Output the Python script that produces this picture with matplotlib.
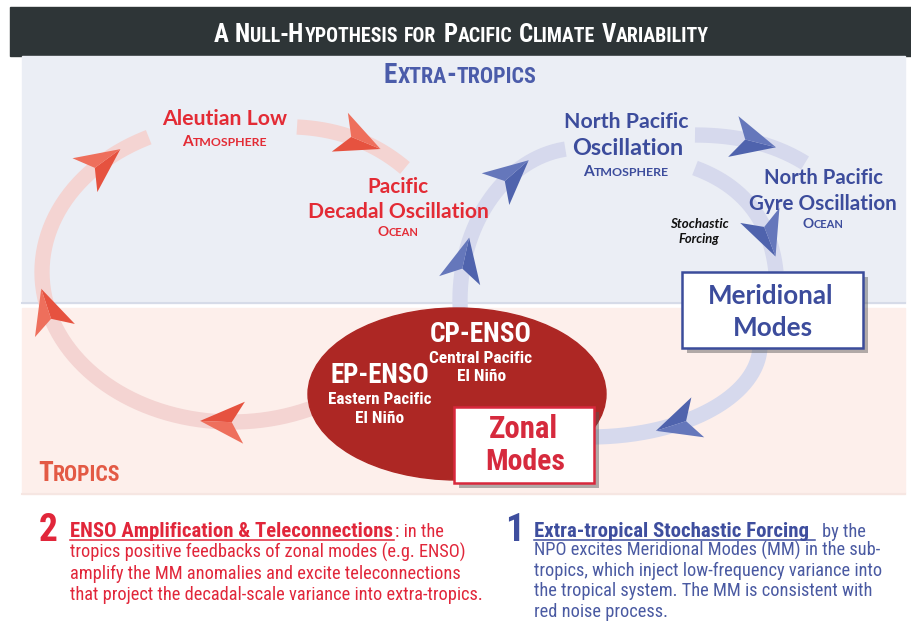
import numpy as np
import matplotlib
matplotlib.use("Agg")
import matplotlib.pyplot as plt
from matplotlib import font_manager
from matplotlib.patches import Rectangle, Ellipse, Polygon

# text content of the diagram
title = "A Null-Hypothesis for Pacific Climate Variability"
zone_names = ["Extra-tropics", "Tropics"]
aleutian = ["Aleutian Low", "Atmosphere"]
pdo = ["Pacific", "Decadal Oscillation", "Ocean"]
npo = ["North Pacific", "Oscillation", "Atmosphere"]
npgo = ["North Pacific", "Gyre Oscillation", "Ocean"]
cp_enso = ["CP-ENSO", "Central Pacific", "El Niño"]
ep_enso = ["EP-ENSO", "Eastern Pacific", "El Niño"]
zonal = ["Zonal", "Modes"]
meridional = ["Meridional", "Modes"]
forcing = ["Stochastic", "Forcing"]
step2_num = "2"
step2_head = "ENSO Amplification & Teleconnections"
step2_tail = ": in the"
step2_lines = ["tropics positive feedbacks of zonal modes (e.g. ENSO)",
               "amplify the MM anomalies and excite teleconnections",
               "that project the decadal-scale variance into extra-tropics."]
step1_num = "1"
step1_head = "Extra-tropical Stochastic Forcing"
step1_tail = "by the"
step1_lines = ["NPO excites Meridional Modes (MM) in the sub-",
               "tropics, which inject low-frequency variance into",
               "the tropical system. The MM is consistent with",
               "red noise process."]

RED = "#e32b35"
BLUE = "#3c4c9c"
RED_ARROW, RED_ARROW2 = "#e6523f", "#ee6f5c"
BLUE_ARROW, BLUE_ARROW2 = "#4f63ad", "#6577bb"
RED_ARC = "#f4d4d2"
BLUE_ARC = "#d6d9ed"

names = {f.name for f in font_manager.fontManager.ttflist}
HEAD = "Lato" if "Lato" in names else "DejaVu Sans"
NARROW = HEAD
for cand in ["Liberation Sans Narrow", "Roboto Condensed", "Open Sans Condensed"]:
    if cand in names:
        NARROW = cand
        break

fig = plt.figure(figsize=(9.11, 6.21), dpi=100)
ax = fig.add_axes([0, 0, 1, 1])
ax.set_xlim(0, 911)
ax.set_ylim(621, 0)
ax.axis("off")
R = fig.canvas.get_renderer()


def width(t):
    return t.get_window_extent(R).width


def label(x, y, s, size, color, ha="center", fit=None, family=HEAD,
          weight="bold", style="normal", z=6):
    t = ax.text(x, y, s, fontsize=size, color=color, ha=ha, va="baseline",
                family=family, weight=weight, style=style, zorder=z)
    if fit:
        t.set_fontsize(size * fit / width(t))
    return t


def small_caps(x, y, s, size, color, ha="center", fit=None, family=HEAD,
               weight="bold", ratio=0.8, z=6):
    words = []
    for w in s.split(" "):
        runs = []
        for ch in w:
            big = not ch.islower()
            if runs and runs[-1][1] == big:
                runs[-1][0] += ch
            else:
                runs.append([ch, big])
        words.append(runs)
    scale = 1.0
    for _ in range(2):
        items = []
        for runs in words:
            ts = [ax.text(0, y, r.upper(), fontsize=(size if big else size * ratio) * scale,
                          color=color, ha="left", va="baseline", family=family,
                          weight=weight, zorder=z) for r, big in runs]
            items.append(ts)
        gap = 0.26 * size * scale * 100 / 72
        total = sum(width(t) for ts in items for t in ts) + gap * (len(items) - 1)
        if fit and _ == 0:
            scale = fit / total
            for ts in items:
                for t in ts:
                    t.remove()
            continue
        break
    x0 = x - total / 2 if ha == "center" else x
    for ts in items:
        for t in ts:
            t.set_x(x0)
            x0 += width(t)
        x0 += gap


def ell_arc(cx, cy, rx, ry, t0, t1, n=150):
    t = np.radians(np.linspace(t0, t1, n))
    return np.column_stack([cx + rx * np.cos(t), cy - ry * np.sin(t)])


def bez(p0, p1, p2, n=150):
    s = np.linspace(0, 1, n)[:, None]
    return (1 - s) ** 2 * np.array(p0) + 2 * (1 - s) * s * np.array(p1) + s ** 2 * np.array(p2)


def draw_path(pts, color, lw=11):
    ax.plot(pts[:, 0], pts[:, 1], color=color, lw=lw, solid_capstyle="butt", zorder=1)


def arrow_at(pts, frac, c1, c2, L=44, Wd=42):
    i = int(np.clip(frac * (len(pts) - 1), 1, len(pts) - 2))
    d = pts[i + 1] - pts[i - 1]
    u = d / np.hypot(*d)
    p = np.array([-u[1], u[0]])
    c = pts[i]
    tip = c + u * L * 0.5
    back = c - u * L * 0.5
    notch = c - u * L * 0.22
    ax.add_patch(Polygon([tip, back + p * Wd / 2, notch], closed=True, color=c1, lw=0, zorder=2))
    ax.add_patch(Polygon([tip, notch, back - p * Wd / 2], closed=True, color=c2, lw=0, zorder=2))


# backgrounds
ax.add_patch(Rectangle((10, 7), 901, 49, color="#2e3537", zorder=0))
ax.add_patch(Rectangle((22, 56), 883, 247, color="#ebeef5", zorder=0))
ax.plot([22, 905], [303, 303], color="#d6dbe8", lw=1.5, zorder=0)
ax.add_patch(Rectangle((22, 308), 883, 186, color="#fdefeb", zorder=0))
ax.plot([22, 905], [494, 494], color="#f6e6e2", lw=1.5, zorder=0)

small_caps(461, 42, title, 15, "white", fit=496, family=NARROW)
small_caps(460, 83, zone_names[0], 16, "#4b5caa", fit=152, family=NARROW)
small_caps(38, 481, zone_names[1], 16, "#e35a45", ha="left", fit=82, family=NARROW)

# red loop
big_red = ell_arc(232, 272, 190, 150, 296, 116)
draw_path(big_red, RED_ARC)
top_red = bez((297, 127), (360, 130), (405, 168))
draw_path(top_red, RED_ARC)
arrow_at(big_red, 0.167, RED_ARROW, RED_ARROW2)
arrow_at(big_red, 0.567, RED_ARROW, RED_ARROW2)
arrow_at(big_red, 0.911, RED_ARROW, RED_ARROW2)
arrow_at(top_red, 0.55, RED_ARROW, RED_ARROW2)

# blue loop
left_blue = ell_arc(580, 300, 120, 152, 190, 97)
draw_path(left_blue, BLUE_ARC)
top_blue = bez((695, 135), (760, 135), (805, 163))
draw_path(top_blue, BLUE_ARC)
down_blue = bez((695, 168), (768, 195), (776, 272))
draw_path(down_blue, BLUE_ARC)
low_blue = ell_arc(590, 345, 170, 92, 0, -92)
draw_path(low_blue, BLUE_ARC)
arrow_at(left_blue, 0.28, BLUE_ARROW, BLUE_ARROW2)
arrow_at(left_blue, 0.71, BLUE_ARROW, BLUE_ARROW2)
arrow_at(top_blue, 0.5, BLUE_ARROW, BLUE_ARROW2)
arrow_at(down_blue, 0.75, BLUE_ARROW, BLUE_ARROW2)
arrow_at(low_blue, 0.65, BLUE_ARROW, BLUE_ARROW2)

# ENSO ellipse
ax.add_patch(Ellipse((457, 394), 298, 172, color="#ad2724", zorder=3))
label(481, 342, cp_enso[0], 16, "white", fit=102, family=NARROW, z=6)
label(481, 363, cp_enso[1], 10, "white", fit=103, family=NARROW, z=6)
label(482, 381, cp_enso[2], 10, "white", fit=49, family=NARROW, z=6)
label(380, 383, ep_enso[0], 16, "white", fit=99, family=NARROW, z=6)
label(380, 404, ep_enso[1], 10, "white", fit=103, family=NARROW, z=6)
label(380, 423, ep_enso[2], 10, "white", fit=49, family=NARROW, z=6)

# mode boxes
for (x0, y0, w, h, ec) in [(454, 407, 140, 76, "#d8283c"), (682, 272, 181, 76, "#3b4c9b")]:
    ax.add_patch(Rectangle((x0 + 5, y0 + 5), w, h, color="#555555", alpha=0.45, lw=0, zorder=4))
    ax.add_patch(Rectangle((x0, y0), w, h, facecolor="white", edgecolor=ec, lw=1.8, zorder=5))
label(523, 438, zonal[0], 18, "#d62a3d", fit=69, family=NARROW)
label(525, 470, zonal[1], 18, "#d62a3d", fit=80, family=NARROW)
label(771, 304, meridional[0], 18, BLUE, fit=126)
label(773, 336, meridional[1], 18, BLUE, fit=80)

# node labels
label(225, 125, aleutian[0], 14, RED, fit=126)
small_caps(225, 146, aleutian[1], 10, RED, fit=85)
label(398, 193, pdo[0], 14, RED, fit=61)
label(398, 218, pdo[1], 14, RED, fit=182)
small_caps(398, 236, pdo[2], 10, RED, fit=41)
label(626, 128, npo[0], 14, BLUE, fit=125)
label(628, 155, npo[1], 14, BLUE, fit=112)
small_caps(626, 176, npo[2], 10, BLUE, fit=86)
label(823, 184, npgo[0], 14, BLUE, fit=119)
label(823, 210, npgo[1], 14, BLUE, fit=149)
small_caps(823, 228, npgo[2], 10, BLUE, fit=41)
label(699, 228, forcing[0], 9, "#111111", fit=59, style="italic")
label(699, 243, forcing[1], 9, "#111111", fit=41, style="italic")

# bottom explanations
label(39, 541, step2_num, 27, "#e1263a", ha="left", family=NARROW)
label(70, 537, step2_head, 12, "#e1263a", ha="left", fit=324, family=NARROW)
ax.plot([70, 394], [540, 540], color="#e1263a", lw=1.1, zorder=6)
body2 = label(70, 558, step2_lines[0], 12, "#e1263a", ha="left", fit=396,
              family=NARROW, weight="normal")
bsize = body2.get_fontsize()
label(395, 537, step2_tail, bsize, "#e1263a", ha="left", family=NARROW, weight="normal")
for k, line in enumerate(step2_lines[1:]):
    label(70, 579 + 21 * k, line, bsize, "#e1263a", ha="left", family=NARROW, weight="normal")

label(505, 541, step1_num, 27, "#3e4e9e", ha="left", family=NARROW)
label(534, 537, step1_head, 12, "#3e4e9e", ha="left", fit=278, family=NARROW)
ax.plot([534, 815], [540, 540], color="#3e4e9e", lw=1.1, zorder=6)
label(822, 537, step1_tail, bsize, "#4a5aa2", ha="left", family=NARROW, weight="normal")
for k, line in enumerate(step1_lines):
    label(534, 556 + 20.2 * k, line, bsize, "#4a5aa2", ha="left", family=NARROW, weight="normal")

fig.savefig("out.png", dpi=100)
